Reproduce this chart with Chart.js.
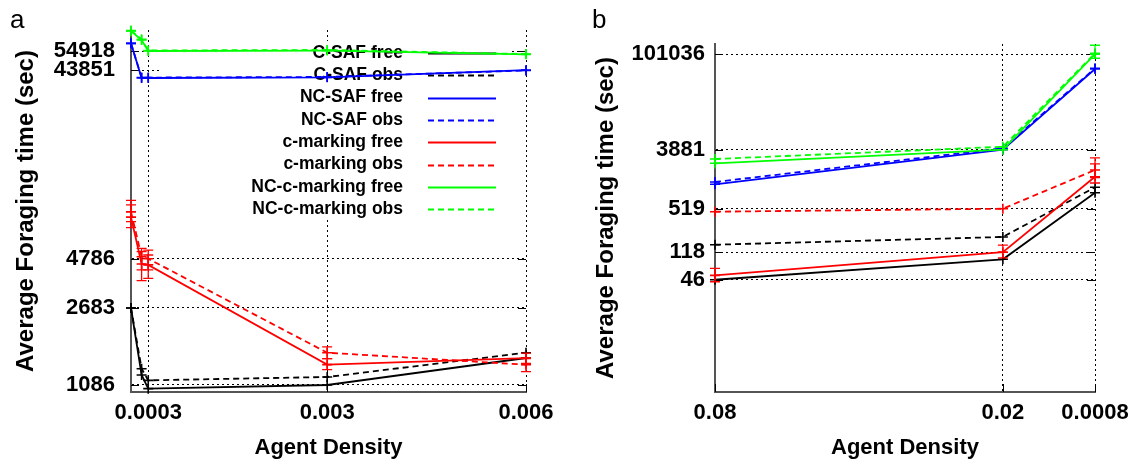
<!DOCTYPE html>
<html lang="en">
<head>
<meta charset="UTF-8">
<title>Average Foraging time vs Agent Density</title>
<script src="https://cdn.jsdelivr.net/npm/chart.js"></script>
<style>
    body { margin: 0; background: #fff; font-family: "Liberation Sans", Arial, sans-serif; }
    .panel { position: absolute; top: 0; height: 464px; }
    #panelA { left: 0; width: 566px; }
    #panelB { left: 566px; width: 567px; }
    .tag { position: absolute; font-size: 26px; line-height: 1; color: #000; }
</style>
</head>
<body>

<div class="panel" id="panelA"><canvas id="chartA"></canvas></div>
<div class="panel" id="panelB"><canvas id="chartB"></canvas></div>
<div class="tag" style="left:10px; top:6px;">a</div>
<div class="tag" style="left:592px; top:6px;">b</div>

<script>
    // series names / looks (same for both panels)
    const seriesNames = ['C-SAF free', 'C-SAF obs', 'NC-SAF free', 'NC-SAF obs',
        'c-marking free', 'c-marking obs', 'NC-c-marking free', 'NC-c-marking obs'];
    const seriesColors = ['#000000', '#000000', '#0000ff', '#0000ff', '#ff0000', '#ff0000', '#00ff00', '#00ff00'];
    const seriesDashed = [false, true, false, true, false, true, false, true];

    // panel a
    const densityA = [0.00004, 0.0002, 0.0003, 0.003, 0.006];
    const cSafFreeA = [2683, 1221, 1040, 1086, 1491];
    const cSafObsA = [2683, 1315, 1147, 1193, 1587];
    const ncSafFreeA = [60100, 40000, 40000, 40300, 43851];
    const ncSafObsA = [60100, 40200, 40200, 40500, 43700];
    const cMarkFreeA = [7800, 4500, 4450, 1380, 1490];
    const cMarkObsA = [8300, 4900, 4786, 1587, 1378];
    const ncCMarkFreeA = [69500, 62500, 54918, 55200, 52800];
    const ncCMarkObsA = [69800, 63000, 55300, 55600, 53000];
    const cMarkFreeErrA = [[6900, 9000], [3700, 5200], [3800, 5000], [1300, 1480], [1400, 1580]];
    const cMarkObsErrA = [[7400, 9500], [4200, 5400], [4200, 5300], [1480, 1700], [1270, 1480]];
    const xTicksA = [0.0003, 0.003, 0.006];
    const xTickLabelsA = ['0.0003', '0.003', '0.006'];
    const yTicksA = [1086, 2683, 4786, 43851, 54918];

    // panel b
    const densityB = [0.08, 0.02, 0.0008];
    const cSafFreeB = [46, 92.5, 897];
    const cSafObsB = [152, 198, 1078];
    const ncSafFreeB = [1194, 3881, 61000];
    const ncSafObsB = [1291, 4075, 62500];
    const cMarkFreeB = [53.5, 118, 1548];
    const cMarkObsB = [469, 519, 1945];
    const ncCMarkFreeB = [2445, 3881, 101036];
    const ncCMarkObsB = [2830, 4300, 104000];
    const cMarkFreeErrB = [[43, 68], [97, 150], [1248, 2400]];
    const cMarkObsErrB = [null, null, [1500, 2935]];
    const ncCMarkFreeErrB = [null, null, [88000, 137000]];
    const xTicksB = [0.08, 0.02, 0.0008];
    const xTickLabelsB = ['0.08', '0.02', '0.0008'];
    const yTicksB = [46, 118, 519, 3881, 101036];

    Chart.defaults.font.family = '"Liberation Sans", Arial, sans-serif';
    Chart.defaults.color = '#000';

    function makeDatasets(xs, series, errs) {
        return series.map((ys, i) => ({
            label: seriesNames[i],
            data: xs.map((x, j) => ({ x: x, y: ys[j] })),
            borderColor: seriesColors[i],
            backgroundColor: seriesColors[i],
            borderWidth: 1.8,
            borderDash: seriesDashed[i] ? [6, 4] : [],
            pointStyle: 'cross',
            pointRadius: 5,
            pointBorderWidth: 1.6,
            tension: 0,
            clip: false,
            order: series.length - 1 - i, // later series on top, like gnuplot
            errorBars: errs[i] || null
        }));
    }

    // error bars with caps
    const errorBarPlugin = {
        id: 'errorBars',
        afterDatasetsDraw(chart) {
            const ctx = chart.ctx;
            const xs = chart.scales.x, ys = chart.scales.y;
            chart.data.datasets.forEach(ds => {
                if (!ds.errorBars) return;
                ctx.save();
                ctx.strokeStyle = ds.borderColor;
                ctx.lineWidth = 1.3;
                ds.errorBars.forEach((e, j) => {
                    if (!e) return;
                    const px = xs.getPixelForValue(ds.data[j].x);
                    const lo = ys.getPixelForValue(e[0]);
                    const hi = ys.getPixelForValue(e[1]);
                    ctx.beginPath();
                    ctx.moveTo(px, lo); ctx.lineTo(px, hi);
                    ctx.moveTo(px - 5, lo); ctx.lineTo(px + 5, lo);
                    ctx.moveTo(px - 5, hi); ctx.lineTo(px + 5, hi);
                    ctx.stroke();
                });
                ctx.restore();
            });
        }
    };

    // inward tick stubs + the opaque key box (panel a only)
    const framePlugin = {
        id: 'frame',
        beforeDatasetsDraw(chart) {
            const ctx = chart.ctx;
            const a = chart.chartArea;
            const xs = chart.scales.x, ys = chart.scales.y;
            ctx.save();
            ctx.strokeStyle = '#000';
            ctx.lineWidth = 1;
            ctx.beginPath();
            ys.ticks.forEach(t => {
                const py = Math.round(ys.getPixelForValue(t.value)) + 0.5;
                ctx.moveTo(a.left, py); ctx.lineTo(a.left + 8, py);
                ctx.moveTo(a.right - 8, py); ctx.lineTo(a.right, py);
            });
            xs.ticks.forEach(t => {
                const px = Math.round(xs.getPixelForValue(t.value)) + 0.5;
                ctx.moveTo(px, a.bottom); ctx.lineTo(px, a.bottom - 8);
            });
            ctx.stroke();

            const key = chart.config.options.keyBox;
            if (key) {
                ctx.fillStyle = '#fff';
                ctx.fillRect(key.left, key.top, key.right - key.left, key.bottom - key.top);
                ctx.font = 'bold 17.5px "Liberation Sans", Arial, sans-serif';
                ctx.textAlign = 'right';
                ctx.textBaseline = 'middle';
                chart.data.datasets.forEach((ds, i) => {
                    const y = key.firstRow + i * key.rowGap;
                    ctx.fillStyle = '#000';
                    ctx.fillText(ds.label, key.textRight, y);
                    ctx.beginPath();
                    ctx.strokeStyle = ds.borderColor;
                    ctx.lineWidth = 1.8;
                    ctx.setLineDash(ds.borderDash);
                    ctx.moveTo(key.lineStart, Math.round(y) + 0.5);
                    ctx.lineTo(key.lineEnd, Math.round(y) + 0.5);
                    ctx.stroke();
                    ctx.setLineDash([]);
                });
            }
            ctx.restore();
        }
    };

    function makeChart(id, cfg) {
        return new Chart(document.getElementById(id), {
            type: 'line',
            data: { datasets: makeDatasets(cfg.xs, cfg.series, cfg.errs) },
            options: {
                responsive: true,
                maintainAspectRatio: false,
                animation: false,
                events: [],
                keyBox: cfg.keyBox,
                layout: { padding: cfg.padding },
                plugins: { legend: { display: false }, tooltip: { enabled: false } },
                scales: {
                    x: {
                        type: 'linear',
                        min: cfg.xMin, max: cfg.xMax,
                        reverse: cfg.reverse,
                        bounds: 'data',
                        afterBuildTicks: s => { s.ticks = cfg.xTicks.map(v => ({ value: v })); },
                        afterFit: s => { s.height = cfg.xHeight; s.paddingLeft = 0; s.paddingRight = 0; },
                        grid: { color: '#000', lineWidth: 1, drawTicks: false },
                        border: { display: true, color: '#555', width: 2, dash: [2, 3] },
                        ticks: {
                            padding: 8, maxRotation: 0, autoSkip: false,
                            font: { size: 22, weight: 'bold' },
                            callback: (v, i) => cfg.xTickLabels[i]
                        },
                        title: { display: true, text: 'Agent Density', padding: 0, font: { size: 22, weight: 'bold' } }
                    },
                    y: {
                        type: 'logarithmic',
                        min: cfg.yMin, max: cfg.yMax,
                        afterBuildTicks: s => { s.ticks = cfg.yTicks.map(v => ({ value: v })); },
                        afterFit: s => { s.width = cfg.yWidth; s.paddingTop = 0; s.paddingBottom = 0; },
                        grid: { color: '#000', lineWidth: 1, drawTicks: false },
                        border: { display: true, color: '#555', width: 2, dash: [2, 3] },
                        ticks: {
                            padding: cfg.yPad, autoSkip: false,
                            font: { size: 22, weight: 'bold' },
                            callback: v => String(v)
                        },
                        title: { display: true, text: 'Average Foraging time (sec)', padding: 0, font: { size: 24, weight: 'bold' } }
                    }
                }
            },
            plugins: [framePlugin, errorBarPlugin]
        });
    }

    makeChart('chartA', {
        xs: densityA,
        series: [cSafFreeA, cSafObsA, ncSafFreeA, ncSafObsA, cMarkFreeA, cMarkObsA, ncCMarkFreeA, ncCMarkObsA],
        errs: [null, null, null, null, cMarkFreeErrA, cMarkObsErrA, null, null],
        xMin: 0.00004, xMax: 0.006, reverse: false,
        xTicks: xTicksA, xTickLabels: xTickLabelsA,
        yMin: 1000, yMax: 70300, yTicks: yTicksA,
        padding: { left: 12, top: 30, right: 40, bottom: 3 },
        yWidth: 119, yPad: 16, xHeight: 69,
        keyBox: { left: 161, top: 41, right: 511, bottom: 220, textRight: 403, lineStart: 428, lineEnd: 496, firstRow: 53, rowGap: 22.3 }
    });

    makeChart('chartB', {
        xs: densityB,
        series: [cSafFreeB, cSafObsB, ncSafFreeB, ncSafObsB, cMarkFreeB, cMarkObsB, ncCMarkFreeB, ncCMarkObsB],
        errs: [null, null, null, null, cMarkFreeErrB, cMarkObsErrB, ncCMarkFreeErrB, null],
        xMin: 0.0008, xMax: 0.08, reverse: true,
        xTicks: xTicksB, xTickLabels: xTickLabelsB,
        yMin: 1, yMax: 143000, yTicks: yTicksB,
        padding: { left: 26, top: 44, right: 38, bottom: 3 },
        yWidth: 123, yPad: 10, xHeight: 69,
        keyBox: null
    });
</script>

</body>
</html>
